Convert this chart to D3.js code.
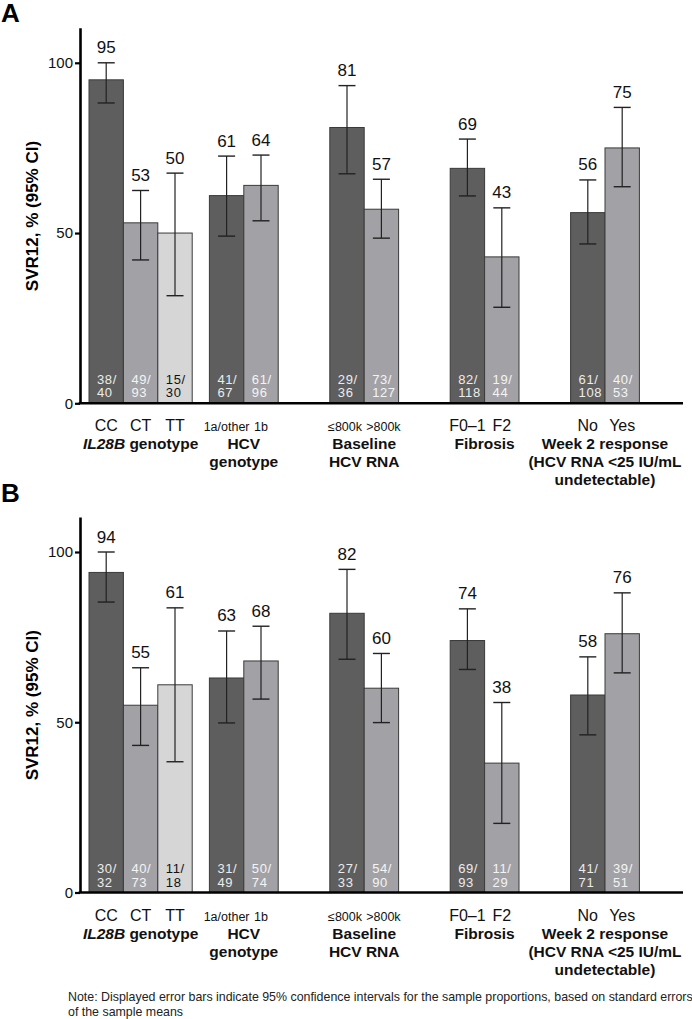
<!DOCTYPE html>
<html>
<head>
<meta charset="utf-8">
<script src="https://cdn.jsdelivr.net/npm/d3@7"></script>
<style>
  html, body { margin: 0; padding: 0; background: #fff; }
  svg { display: block; font-family: "Liberation Sans", Arial, Helvetica, sans-serif; }
</style>
</head>
<body>
<svg id="chart" width="692" height="1019"></svg>
<script>
// ---------------- DATA ----------------
const categories = ["CC", "CT", "TT", "1a/other", "1b", "≤800k", ">800k", "F0–1", "F2", "No", "Yes"];
const groupOf = [0, 0, 0, 1, 1, 2, 2, 3, 3, 4, 4];
const groupLabels = [
  ["IL28B genotype"],
  ["HCV", "genotype"],
  ["Baseline", "HCV RNA"],
  ["Fibrosis"],
  ["Week 2 response", "(HCV RNA <25 IU/mL", "undetectable)"]
];
const shadeOf = [0, 1, 2, 0, 1, 0, 1, 0, 1, 0, 1];

const valuesA = [95, 53, 50, 61, 64, 81, 57, 69, 43, 56, 75];
const ciLowA  = [88.2, 42.1, 31.6, 49.1, 53.6, 67.4, 48.5, 60.9, 28.2, 46.8, 63.6];
const ciHighA = [100, 62.5, 67.6, 72.6, 72.9, 93.3, 65.8, 77.6, 57.4, 65.6, 86.9];
const countsA = ["38/40", "49/93", "15/30", "41/67", "61/96", "29/36", "73/127", "82/118", "19/44", "61/108", "40/53"];

const valuesB = [94, 55, 61, 63, 68, 82, 60, 74, 38, 58, 76];
const ciLowB  = [85.3, 43.2, 38.4, 49.8, 56.8, 68.5, 49.9, 65.5, 20.3, 46.3, 64.5];
const ciHighB = [100, 66, 83.6, 76.8, 78.2, 94.9, 70.2, 83.3, 55.8, 69.2, 88];
const countsB = ["30/32", "40/73", "11/18", "31/49", "50/74", "27/33", "54/90", "69/93", "11/29", "41/71", "39/51"];

const yTicks = [0, 50, 100];
const panelLetters = ["A", "B"];
const yTitle = "SVR12, % (95% CI)";
const noteLines = [
  "Note: Displayed error bars indicate 95% confidence intervals for the sample proportions, based on standard errors",
  "of the sample means"
];

// ---------------- LAYOUT ----------------
const groupGaps = [0, 0.5, 1.5, 1.5, 1.5];   // extra slot gap before each group
const smallCats = new Set(["1a/other", "1b", "≤800k", ">800k"]);
const fills = ["#5e5e5e", "#a2a2a6", "#d6d6d6"];
const countColors = ["#ececec", "#f4f4f4", "#111"];

// slot positions derived from group structure
const slots = [];
{
  let pos = 0, prevG = -1;
  categories.forEach((c, i) => {
    if (groupOf[i] !== prevG && prevG !== -1) pos += groupGaps[groupOf[i]];
    slots.push(pos);
    pos += 1;
    prevG = groupOf[i];
  });
}

const svg = d3.select("#chart");
const x = d3.scaleLinear().domain([0, 15]).range([89, 605]);
const barW = x(1) - x(0);
const axisX = 80;
const axisRight = 683;

function drawPanel(py0, values, lo, hi, counts, letter, letterY) {
  const y = d3.scaleLinear().domain([0, 100]).range([py0, py0 - 340.5]);
  const yTop = 110.3;
  const g = svg.append("g");

  // panel letter
  g.append("text").attr("x", 1).attr("y", letterY)
    .attr("font-size", 26).attr("font-weight", "bold").text(letter);

  // bars
  g.selectAll("rect.bar").data(values).join("rect")
    .attr("class", "bar")
    .attr("x", (d, i) => x(slots[i]))
    .attr("y", d => y(d))
    .attr("width", barW)
    .attr("height", d => y(0) - y(d))
    .attr("fill", (d, i) => fills[shadeOf[i]])
    .attr("stroke", "#3a3a3a").attr("stroke-width", 1);

  // counts inside bars
  counts.forEach((c, i) => {
    const parts = c.split("/");
    const t = g.append("text")
      .attr("font-size", 13).attr("letter-spacing", 0.6)
      .attr("fill", countColors[shadeOf[i]]);
    t.append("tspan").attr("x", x(slots[i]) + 8).attr("y", y(0) - 19.5).text(parts[0] + "/");
    t.append("tspan").attr("x", x(slots[i]) + 8).attr("y", y(0) - 6).text(parts[1]);
  });

  // error bars
  const cap = 8.5;
  values.forEach((v, i) => {
    const cx = x(slots[i]) + barW / 2;
    g.append("line").attr("x1", cx).attr("x2", cx).attr("y1", y(lo[i])).attr("y2", y(hi[i]))
      .attr("stroke", "#222").attr("stroke-width", 1.2);
    [lo[i], hi[i]].forEach(e => {
      g.append("line").attr("x1", cx - cap).attr("x2", cx + cap).attr("y1", y(e)).attr("y2", y(e))
        .attr("stroke", "#222").attr("stroke-width", 1.4);
    });
    g.append("text").attr("x", cx).attr("y", y(hi[i]) - 9.5)
      .attr("text-anchor", "middle").attr("font-size", 17).attr("fill", "#111")
      .text(v);
  });

  // y axis
  const yAx = d3.scaleLinear().domain([0, yTop]).range([y(0), y(yTop)]);
  const ag = g.append("g").attr("transform", `translate(${axisX},0)`)
    .call(d3.axisLeft(yAx).tickValues(yTicks).tickSize(5).tickSizeOuter(0).tickPadding(2));
  ag.select(".domain").attr("stroke", "#000").attr("stroke-width", 2.6);
  ag.selectAll(".tick line").attr("stroke", "#000").attr("stroke-width", 2.2);
  ag.selectAll(".tick text").attr("font-size", 15).attr("fill", "#111")
    .attr("font-family", "Liberation Sans, Arial, sans-serif");

  // x axis line
  g.append("line").attr("x1", axisX - 1.3).attr("x2", axisRight).attr("y1", y(0)).attr("y2", y(0))
    .attr("stroke", "#000").attr("stroke-width", 2.6);

  // y title
  g.append("text")
    .attr("transform", `translate(38,${y(55)}) rotate(-90)`)
    .attr("text-anchor", "middle").attr("font-size", 17).attr("font-weight", "bold")
    .text(yTitle);

  // category labels
  categories.forEach((c, i) => {
    let cx = x(slots[i]) + barW / 2;
    if (c === "≤800k") cx -= 2;
    if (c === ">800k") cx += 2;
    g.append("text").attr("x", cx).attr("y", y(0) + 28)
      .attr("text-anchor", "middle")
      .attr("font-size", smallCats.has(c) ? 12.5 : 16)
      .attr("fill", "#111")
      .text(c);
  });

  // group labels
  groupLabels.forEach((lines, gi) => {
    const idx = groupOf.map((gg, i) => gg === gi ? i : -1).filter(i => i >= 0);
    const cx = (x(slots[idx[0]]) + x(slots[idx[idx.length - 1]]) + barW) / 2;
    lines.forEach((ln, li) => {
      const t = g.append("text").attr("x", cx).attr("y", y(0) + 46 + li * 18)
        .attr("text-anchor", "middle").attr("font-size", 15.5).attr("font-weight", "bold")
        .attr("fill", "#111");
      if (ln.startsWith("IL28B")) {
        t.append("tspan").attr("font-style", "italic").text("IL28B");
        t.append("tspan").text(ln.slice(5));
      } else {
        t.text(ln);
      }
    });
  });
}

drawPanel(403.3, valuesA, ciLowA, ciHighA, countsA, panelLetters[0], 22);
drawPanel(892.5, valuesB, ciLowB, ciHighB, countsB, panelLetters[1], 502);

// note
noteLines.forEach((ln, i) => {
  svg.append("text").attr("x", 68).attr("y", 1001 + i * 14.5)
    .attr("font-size", 12.4).attr("fill", "#222").text(ln);
});
</script>
</body>
</html>
